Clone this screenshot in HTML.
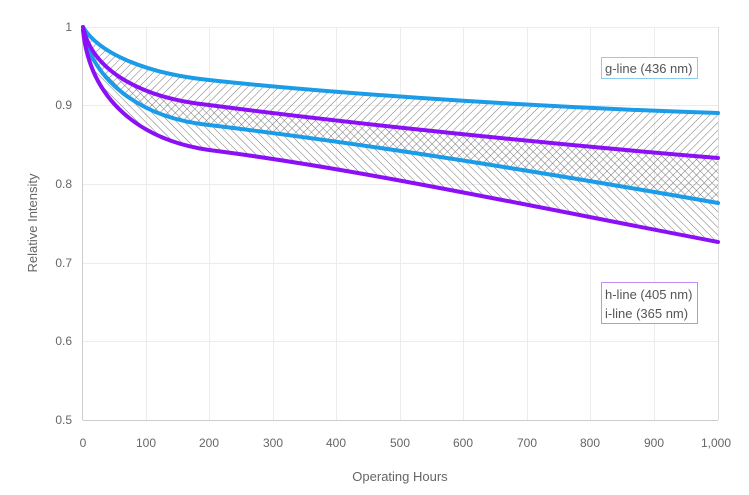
<!DOCTYPE html><html><head><style>body{margin:0;background:#fff}svg{font-family:"Liberation Sans",sans-serif}</style></head><body>
<svg width="749" height="490" viewBox="0 0 749 490">
<defs>
<pattern id="p1" width="5.5" height="5.5" patternUnits="userSpaceOnUse" patternTransform="rotate(45)"><line x1="0" y1="0" x2="0" y2="6" stroke="#777" stroke-width="1"/></pattern>
<pattern id="p2" width="5.5" height="5.5" patternUnits="userSpaceOnUse" patternTransform="rotate(-45)"><line x1="0" y1="0" x2="0" y2="6" stroke="#777" stroke-width="1"/></pattern>
</defs>
<g stroke="#ececec" stroke-width="1">
<line x1="146.5" y1="27" x2="146.5" y2="420"/><line x1="209.5" y1="27" x2="209.5" y2="420"/><line x1="273.5" y1="27" x2="273.5" y2="420"/><line x1="336.5" y1="27" x2="336.5" y2="420"/><line x1="400.5" y1="27" x2="400.5" y2="420"/><line x1="463.5" y1="27" x2="463.5" y2="420"/><line x1="527.5" y1="27" x2="527.5" y2="420"/><line x1="590.5" y1="27" x2="590.5" y2="420"/><line x1="654.5" y1="27" x2="654.5" y2="420"/>
<line x1="83" y1="105.5" x2="718" y2="105.5"/><line x1="83" y1="184.5" x2="718" y2="184.5"/><line x1="83" y1="263.5" x2="718" y2="263.5"/><line x1="83" y1="341.5" x2="718" y2="341.5"/><line x1="83" y1="27.5" x2="718" y2="27.5"/>
</g>
<line x1="83" y1="420.5" x2="718" y2="420.5" stroke="#ccc"/>
<line x1="82.5" y1="27" x2="82.5" y2="420" stroke="#ccc"/>
<line x1="718.5" y1="27" x2="718.5" y2="420" stroke="#ddd"/>
<path fill="url(#p1)" d="M83,27 C100,55 150,74 209,80 C300,90 500,106 718,113 L718,203 C500,165 350,142 209,125 C140,118 92,80 83,30 Z"/>
<path fill="url(#p2)" d="M83,27 C92,70 140,98 209,105 C300,117 500,140 718,158 L718,242 C500,200 350,168 209,150 C140,140 90,100 83,30 Z"/>
<g fill="none" stroke-width="4" stroke-linejoin="round" stroke-linecap="round">
<path stroke="#1a9ce8" d="M83,27 C100,55 150,74 209,80 C300,90 500,106 718,113"/>
<path stroke="#1a9ce8" d="M83,30 C92,80 140,118 209,125 C350,142 500,165 718,203"/>
<path stroke="#8b10f5" d="M83,27 C92,70 140,98 209,105 C300,117 500,140 718,158"/>
<path stroke="#8b10f5" d="M83,30 C90,100 140,140 209,150 C350,168 500,200 718,242"/>
</g>
<g font-size="12" fill="#666" text-anchor="end">
<text x="72" y="31">1</text><text x="72" y="109">0.9</text><text x="72" y="188">0.8</text><text x="72" y="267">0.7</text><text x="72" y="345">0.6</text><text x="72" y="424">0.5</text>
</g>
<g font-size="12" fill="#666" text-anchor="middle">
<text x="83" y="447">0</text><text x="146" y="447">100</text><text x="209" y="447">200</text><text x="273" y="447">300</text><text x="336" y="447">400</text><text x="400" y="447">500</text><text x="463" y="447">600</text><text x="527" y="447">700</text><text x="590" y="447">800</text><text x="654" y="447">900</text><text x="716" y="447">1,000</text>
<text x="400" y="481" font-size="13">Operating Hours</text>
<text transform="translate(37,223) rotate(-90)" font-size="13">Relative Intensity</text>
</g>
<rect x="601.5" y="57.5" width="96" height="21" fill="#fff" stroke="#8ccdf2"/>
<text x="605" y="73" font-size="13" fill="#555">g-line (436 nm)</text>
<rect x="601.5" y="282.5" width="96" height="41" fill="#fff" stroke="#c58cf2"/>
<text x="605" y="299" font-size="13" fill="#555">h-line (405 nm)</text>
<text x="605" y="318" font-size="13" fill="#555">i-line (365 nm)</text>
</svg></body></html>
